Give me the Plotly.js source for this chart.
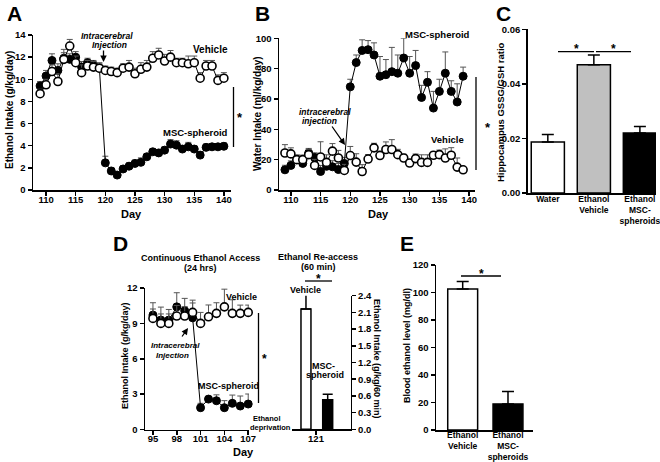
<!DOCTYPE html>
<html><head><meta charset="utf-8">
<script src="https://cdn.plot.ly/plotly-3.0.1.min.js"></script>
<style>html,body{margin:0;padding:0;background:#fff}#chart{width:660px;height:462px}</style>
</head><body><div id="chart"></div>
<script>
// ---- data ----
const daysA = [109,110,111,112,113,114,115,116,117,118,119,120,121,122,123,124,125,126,127,128,129,130,131,132,133,134,135,136,137,138,139,140];
const vehicleA = [8.7,9.5,10.7,9.8,11.8,13.0,11.5,10.6,11.2,11.1,11.0,10.8,10.7,10.6,11.0,11.1,10.5,10.9,11.1,11.9,12.2,11.65,12.0,11.5,11.5,11.4,11.5,10.1,11.2,11.2,9.9,10.1];
const vehicleAerr = [0.4,0.5,0.6,0.7,0.9,0.6,0.6,0.7,0.5,0.5,0.5,0.4,0.4,0.4,0.4,0.6,0.5,0.6,0.6,0.6,0.6,0.6,0.6,0.4,0.4,0.7,0.6,0.5,0.5,0.5,0.5,0.5];
const mscA = [9.4,10.3,11.7,10.8,11.9,11.8,12.0,11.1,11.5,11.3,11.0,2.45,1.72,1.35,1.9,2.15,2.4,2.5,3.0,3.45,3.35,3.6,4.15,4.05,3.7,3.9,3.7,3.15,3.85,3.9,3.9,3.95];
const mscAerr = [0.4,0.5,0.6,0.6,0.5,0.5,0.5,0.5,0.4,0.4,0.4,0.6,0.3,0.2,0.3,0.3,0.3,0.4,0.3,0.3,0.3,0.3,0.4,0.4,0.3,0.4,0.3,0.3,0.3,0.3,0.3,0.3];

const daysB = [109,110,111,112,113,114,115,116,117,118,119,120,121,122,123,124,125,126,127,128,129,130,131,132,133,134,135,136,137,138,139];
const vehicleB = [24.4,23.8,20,20,23.3,16.2,21.8,18.2,25.6,21.1,12.9,22.7,18.4,12.2,20.4,27.8,22.7,26.7,26.7,23.3,21.1,17.8,20.7,18.2,18.2,22.9,23.3,21.1,22.9,15.1,13.3];
const vehicleBerr = [5.5,4,3,3,3.5,4,10,5,5,5,4,6,5.5,4.5,3,3,3,5,6.5,3.5,2.5,2,3,5,5,2,3,6,5,6,2];
const mscB = [13.3,16.2,20,17.5,24.4,21.5,12.2,15.6,15.3,13.5,17.5,68,84,92,92.5,89,75,76,78,77,87,77,82,61,71,54,65,77,65,58,75];
const mscBerr = [3,3,3,3,3,3,4,5,4,4,4,5,5,7,6,8,13,10,16,12,13,11,10,8,7,11,8,14,7,12,6];

const catsC = ['Water','Ethanol<br>Vehicle','Ethanol<br>MSC-<br>spheroids'];
const ratioC = [0.0187,0.047,0.022];
const ratioCerr = [0.0027,0.0036,0.0024];

const daysD = [95,96,97,98,99,100,101,102,103,104,105,106,107];
const vehicleD = [9.42,9.0,9.0,9.62,9.62,9.93,9.0,9.56,9.85,10.4,9.85,9.85,9.93];
const vehicleDerr = [0.8,0.8,0.8,0.9,0.8,0.8,0.93,1.0,0.9,1.5,1.15,0.7,0.62];
const mscD = [9.7,9.28,9.28,10.4,10.07,9.47,1.85,2.58,2.44,1.85,2.22,1.99,2.16];
const mscDerr = [1.05,1.1,0.9,1.2,1.05,1.5,0.37,0.2,0.5,0.6,0.7,0.85,0.85];

const reaccessDay = [121];
const reaccessVehicle = [2.16];
const reaccessVehicleErr = [0.27];
const reaccessMSC = [0.53];
const reaccessMSCErr = [0.1];

const catsE = ['Ethanol<br>Vehicle','Ethanol<br>MSC-<br>spheroids'];
const bloodE = [102.5,19];
const bloodEerr = [5.5,9];

const ticksA = [110,115,120,125,130,135,140];
const ticksD = [95,98,101,104,107];

// ---- helpers ----
const W = 660, H = 462;
const FONT = 'Liberation Sans, Arial, sans-serif';
const px = x => x / W, py = y => 1 - y / H;
const zeros = a => a.map(() => 0);

function ebar(arr, color, w, th){
  return {type:'data', array:arr, arrayminus:zeros(arr), symmetric:false, color:color, thickness:th, width:w};
}
function openTrace(x, y, err, xa, ya){
  return {type:'scatter', mode:'lines+markers', x:x, y:y, xaxis:xa, yaxis:ya, cliponaxis:false,
    line:{color:'#000', width:1}, marker:{size:8, color:'#fff', line:{color:'#000', width:1.6}},
    error_y: ebar(err, '#555', 3, 1), hoverinfo:'skip', showlegend:false};
}
function fillTrace(x, y, err, xa, ya){
  return {type:'scatter', mode:'lines+markers', x:x, y:y, xaxis:xa, yaxis:ya, cliponaxis:false,
    line:{color:'#000', width:1}, marker:{size:8, color:'#000', line:{color:'#000', width:1}},
    error_y: ebar(err, '#555', 3, 1), hoverinfo:'skip', showlegend:false};
}

const traces = [
  fillTrace(daysA, mscA, mscAerr, 'x', 'y'),
  openTrace(daysA, vehicleA, vehicleAerr, 'x', 'y'),
  fillTrace(daysB, mscB, mscBerr, 'x2', 'y2'),
  openTrace(daysB, vehicleB, vehicleBerr, 'x2', 'y2'),
  {type:'bar', x:catsC, y:ratioC, xaxis:'x3', yaxis:'y3', width:0.72,
   marker:{color:['#ffffff','#c0c0c0','#000000'], line:{color:'#000', width:1.5}},
   error_y: ebar(ratioCerr, '#000', 6, 1.5), hoverinfo:'skip', showlegend:false},
  fillTrace(daysD, mscD, mscDerr, 'x4', 'y4'),
  openTrace(daysD, vehicleD, vehicleDerr, 'x4', 'y4'),
  {type:'bar', x:reaccessDay, y:reaccessVehicle, xaxis:'x5', yaxis:'y5', width:0.17, offset:-0.256,
   marker:{color:'#fff', line:{color:'#000', width:1.5}},
   error_y: ebar(reaccessVehicleErr, '#000', 5, 1.5), hoverinfo:'skip', showlegend:false},
  {type:'bar', x:reaccessDay, y:reaccessMSC, xaxis:'x5', yaxis:'y5', width:0.17, offset:0.114,
   marker:{color:'#000', line:{color:'#000', width:1.5}},
   error_y: ebar(reaccessMSCErr, '#000', 5, 1.5), hoverinfo:'skip', showlegend:false},
  {type:'bar', x:catsE, y:bloodE, xaxis:'x6', yaxis:'y6', width:0.66,
   marker:{color:['#ffffff','#000000'], line:{color:'#000', width:1.5}},
   error_y: ebar(bloodEerr, '#000', 6, 1.5), hoverinfo:'skip', showlegend:false}
];

function ax(extra){
  return Object.assign({showline:true, linecolor:'#000', linewidth:1.5, ticks:'outside', ticklen:4,
    tickwidth:1.5, tickcolor:'#000', showgrid:false, zeroline:false, fixedrange:true,
    tickfont:{family:FONT, size:9.5, color:'#000', weight:'bold'}}, extra);
}
const catFont = {family:FONT, size:8.5, color:'#000', weight:'bold'};

const layout = {
  width:W, height:H, margin:{l:0,r:0,t:0,b:0}, paper_bgcolor:'#fff', plot_bgcolor:'rgba(0,0,0,0)',
  showlegend:false, barmode:'overlay', font:{family:FONT, color:'#000'},
  xaxis: ax({domain:[px(33),px(231)], range:[107.8,141.2], tickvals:ticksA, anchor:'y', ticklabelstandoff:-4}),
  yaxis: ax({domain:[py(190),py(35)], range:[0,14], dtick:2, anchor:'x'}),
  xaxis2: ax({domain:[px(279),px(475)], range:[108,141], tickvals:ticksA, anchor:'y2', ticklabelstandoff:-4}),
  yaxis2: ax({domain:[py(190),py(38.3)], range:[0,100], dtick:20, anchor:'x2'}),
  xaxis3: ax({domain:[px(527.7),px(656)], range:[-0.437,2.35], type:'category', anchor:'y3', ticks:'', tickfont:catFont, ticklabelstandoff:-3}),
  yaxis3: ax({domain:[py(193),py(29.3)], range:[0,0.06], dtick:0.02, tickformat:'.2f', anchor:'x3'}),
  xaxis4: ax({domain:[px(145),px(249)], range:[94,107.1], tickvals:ticksD, anchor:'y4', ticklabelstandoff:-4}),
  yaxis4: ax({domain:[py(429.5),py(288)], range:[0,12], dtick:3, anchor:'x4'}),
  xaxis5: ax({domain:[px(292),px(350.7)], range:[120.591,121.591], tickvals:reaccessDay, anchor:'y5', ticklabelstandoff:-4}),
  yaxis5: ax({domain:[py(429.3),py(295.7)], range:[0,2.4], dtick:0.3, tickformat:'.1f', side:'right', anchor:'x5'}),
  xaxis6: ax({domain:[px(436),px(533)], range:[-0.589,1.552], type:'category', anchor:'y6', ticks:'', tickfont:catFont, ticklabelstandoff:-4}),
  yaxis6: ax({domain:[py(430),py(265)], range:[0,120], dtick:20, anchor:'x6'}),
  annotations: [],
  shapes: []
};

function ann(text, x, y, size, extra){
  layout.annotations.push(Object.assign({xref:'paper', yref:'paper', x:px(x), y:py(y), text:text,
    showarrow:false, xanchor:'center', yanchor:'middle',
    font:{family:FONT, size:size, color:'#000', weight:'bold'}}, extra||{}));
}
function arrow(tx, ty, hx, hy){
  layout.annotations.push({xref:'paper', yref:'paper', x:px(hx), y:py(hy), ax:tx-hx, ay:ty-hy,
    text:'', showarrow:true, arrowhead:2, arrowsize:1, arrowwidth:1.3, arrowcolor:'#000'});
}
function line(x0, y0, x1, y1){
  layout.shapes.push({type:'line', xref:'paper', yref:'paper', x0:px(x0), y0:py(y0), x1:px(x1), y1:py(y1),
    line:{color:'#000', width:1.3}});
}

// panel letters
ann('A', 14, 14, 21); ann('B', 262, 14, 21); ann('C', 503, 14, 21); ann('D', 121, 243, 21); ann('E', 407, 243, 21);
// axis titles
ann('Ethanol Intake (g/kg/day)', 9, 110, 10, {textangle:-90});
ann('Day', 131, 214, 11);
ann('Water Intake (ml/kg/day)', 258, 114, 10, {textangle:-90});
ann('Day', 378, 214, 11);
ann('Hippocampus GSSG/GSH ratio', 500, 112, 9.5, {textangle:-90});
ann('Ethanol Intake (g/kg/day)', 125, 356, 9, {textangle:-90});
ann('Day', 243, 452, 11);
ann('Ethanol Intake (g/kg/60 min)', 377, 359, 9, {textangle:90});
ann('Blood ethanol level (mg/dl)', 407, 346, 9, {textangle:-90});
// panel A
ann('<i>Intracerebral</i>', 107, 36, 8.5); ann('<i>Injection</i>', 109, 45, 8.5);
arrow(103.5, 49, 103.5, 62);
ann('Vehicle', 210, 49, 10); ann('MSC-spheroid', 195, 132, 9.5);
line(233.5, 87, 233.5, 147); ann('*', 240, 117, 13);
// panel B
ann('MSC-spheroid', 437, 34, 9.5); ann('Vehicle', 447, 139, 9.5);
ann('<i>intracerebral</i>', 325, 112, 8.5); ann('<i>injection</i>', 319, 121, 8.5);
arrow(331, 125, 345, 145);
line(476, 77, 476, 170); ann('*', 488, 127, 13);
// panel C
line(558, 51.7, 594, 51.7); line(596, 51.7, 631, 51.7);
ann('*', 576, 49, 12); ann('*', 613, 49, 12);
// panel D
ann('Continuous Ethanol Access', 200, 258, 9); ann('(24 hrs)', 200, 268, 9);
ann('Ethanol Re-access', 318, 257, 9); ann('(60 min)', 318, 267, 9);
ann('Vehicle', 241, 297, 9); ann('MSC-spheroid', 228, 386, 9);
ann('<i>Intracerebral</i>', 175, 345, 8); ann('<i>Injection</i>', 172, 355, 8);
arrow(181, 338, 188, 328);
line(258.5, 313, 258.5, 403); ann('*', 264, 359, 12);
ann('Ethanol', 267, 418, 7.5); ann('deprivation', 270, 427, 7.5);
ann('Vehicle', 305, 290, 9); ann('MSC-', 323, 366, 9); ann('spheroid', 325, 375, 9);
line(305, 281, 332, 281); ann('*', 318, 279, 12);
// panel E
line(461, 276, 501, 276); ann('*', 481, 274, 12);

Plotly.newPlot('chart', traces, layout, {staticPlot:true, displayModeBar:false});
</script>
</body></html>
